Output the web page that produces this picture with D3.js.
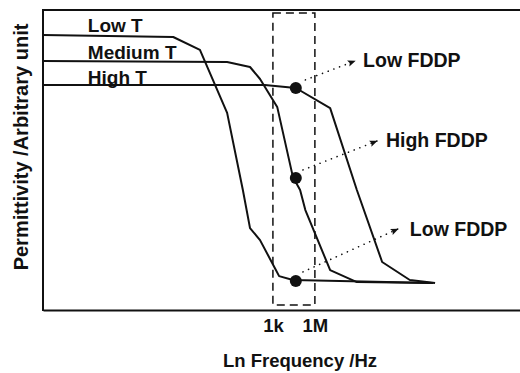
<!DOCTYPE html>
<html>
  <head>
    <meta charset="utf-8" />
    <script src="https://d3js.org/d3.v7.min.js"></script>
    <style>
      body { margin: 0; background: #fff; }
      svg text { font-family: "Liberation Sans", Arial, sans-serif; font-weight: bold; fill: #111; }
    </style>
  </head>
  <body>
    <div id="chart"></div>
    <script>
      // data in arbitrary units (x: ln frequency, y: permittivity)
      var seriesNames = ["Low T", "Medium T", "High T"];
      var lowTx = [0, 27.3, 32.9, 38.6, 41.9, 43.4, 45.5, 48.6, 49.5, 52.4, 81.8];
      var lowTy = [91.7, 91, 86.7, 65.7, 40, 27.3, 23.3, 14, 11.3, 10, 9];
      var medTx = [0, 38.6, 43.4, 45.5, 49.1, 52.4, 53.9, 55.0, 60.2, 65.8, 81.8];
      var medTy = [83, 82.7, 81, 77, 67.7, 44.3, 40, 33.3, 13.3, 9.3, 9];
      var highTx = [0, 46.5, 53.0, 60.2, 65.8, 71.1, 76.9, 82.2];
      var highTy = [75, 75, 74, 67.3, 40, 16, 10, 9];
      var labelY = [92.7, 83.7, 75.3];

      var tickValues = [48.2, 57.0];
      var tickLabels = ["1k", "1M"];

      var dotX = [53.0, 53.0, 53.0];
      var dotY = [74, 44, 9.7];

      var noteLabels = ["Low FDDP", "High FDDP", "Low FDDP"];
      var noteFromX = [55.0, 54.5, 54.5];
      var noteFromY = [76.7, 46.7, 12.7];
      var noteToX = [65.4, 70.0, 74.4];
      var noteToY = [83, 56.3, 27];
      var noteTextX = [67.1, 71.9, 76.9];
      var noteTextY = [81, 54.3, 24.7];

      var width = 520, height = 373;
      var margin = { top: 10, left: 43, bottom: 63 };

      var x = d3.scaleLinear().domain([0, 100]).range([margin.left, width]);
      var y = d3.scaleLinear().domain([0, 100]).range([height - margin.bottom, margin.top]);

      var svg = d3.select("#chart").append("svg")
        .attr("width", width)
        .attr("height", height);

      // frame: top and left
      svg.append("line")
        .attr("x1", x(0)).attr("x2", x(100))
        .attr("y1", y(100)).attr("y2", y(100))
        .attr("stroke", "#111").attr("stroke-width", 2);
      svg.append("line")
        .attr("x1", x(0)).attr("x2", x(0))
        .attr("y1", y(100) - 1).attr("y2", y(0) + 1)
        .attr("stroke", "#111").attr("stroke-width", 2);

      // bottom axis
      var xAxis = d3.axisBottom(x)
        .tickValues(tickValues)
        .tickSize(0)
        .tickSizeOuter(0)
        .tickPadding(9)
        .tickFormat(function (d, i) { return tickLabels[i]; });

      var gx = svg.append("g")
        .attr("transform", "translate(0," + y(0) + ")")
        .call(xAxis);
      gx.select(".domain").attr("stroke", "#111").attr("stroke-width", 2);
      gx.selectAll("text")
        .attr("font-size", 18.5)
        .attr("font-family", "Liberation Sans, Arial, sans-serif")
        .attr("font-weight", "bold")
        .attr("fill", "#111");

      // dashed window
      svg.append("rect")
        .attr("x", x(tickValues[0]))
        .attr("y", y(99))
        .attr("width", x(tickValues[1]) - x(tickValues[0]))
        .attr("height", y(1.7) - y(99))
        .attr("fill", "none")
        .attr("stroke", "#111")
        .attr("stroke-width", 1.5)
        .attr("stroke-dasharray", "8,5");

      // curves
      var line = d3.line()
        .x(function (d) { return x(d[0]); })
        .y(function (d) { return y(d[1]); });

      var curves = [
        d3.zip(lowTx, lowTy),
        d3.zip(medTx, medTy),
        d3.zip(highTx, highTy)
      ];

      svg.append("g").selectAll("path")
        .data(curves)
        .enter()
        .append("path")
        .attr("d", line)
        .attr("fill", "none")
        .attr("stroke", "#111")
        .attr("stroke-width", 2)
        .attr("stroke-linejoin", "round");

      svg.append("g").selectAll("text")
        .data(seriesNames)
        .enter()
        .append("text")
        .attr("x", x(9.4))
        .attr("y", function (d, i) { return y(labelY[i]); })
        .attr("font-size", 19)
        .text(function (d) { return d; });

      // arrowhead
      svg.append("defs").append("marker")
        .attr("id", "arrow")
        .attr("viewBox", "0 0 10 10")
        .attr("refX", 9).attr("refY", 5)
        .attr("markerWidth", 8).attr("markerHeight", 8)
        .attr("markerUnits", "userSpaceOnUse")
        .attr("orient", "auto")
        .append("path")
        .attr("d", "M0,1L10,5L0,9L2,5Z")
        .attr("fill", "#111");

      // dotted pointers
      svg.append("g").selectAll("line")
        .data(noteLabels)
        .enter()
        .append("line")
        .attr("x1", function (d, i) { return x(noteFromX[i]); })
        .attr("y1", function (d, i) { return y(noteFromY[i]); })
        .attr("x2", function (d, i) { return x(noteToX[i]); })
        .attr("y2", function (d, i) { return y(noteToY[i]); })
        .attr("stroke", "#111")
        .attr("stroke-width", 1.6)
        .attr("stroke-linecap", "round")
        .attr("stroke-dasharray", "0.1,6")
        .attr("marker-end", "url(#arrow)");

      svg.append("g").selectAll("text")
        .data(noteLabels)
        .enter()
        .append("text")
        .attr("x", function (d, i) { return x(noteTextX[i]); })
        .attr("y", function (d, i) { return y(noteTextY[i]); })
        .attr("font-size", 19.5)
        .text(function (d) { return d; });

      // markers
      svg.append("g").selectAll("circle")
        .data(dotX)
        .enter()
        .append("circle")
        .attr("cx", function (d) { return x(d); })
        .attr("cy", function (d, i) { return y(dotY[i]); })
        .attr("r", 6)
        .attr("fill", "#111");

      // axis titles
      svg.append("text")
        .attr("x", 300)
        .attr("y", 367)
        .attr("text-anchor", "middle")
        .attr("font-size", 18.5)
        .text("Ln Frequency /Hz");

      svg.append("text")
        .attr("transform", "translate(28," + 147 + ") rotate(-90)")
        .attr("text-anchor", "middle")
        .attr("font-size", 20)
        .text("Permittivity /Arbitrary unit");
    </script>
  </body>
</html>
